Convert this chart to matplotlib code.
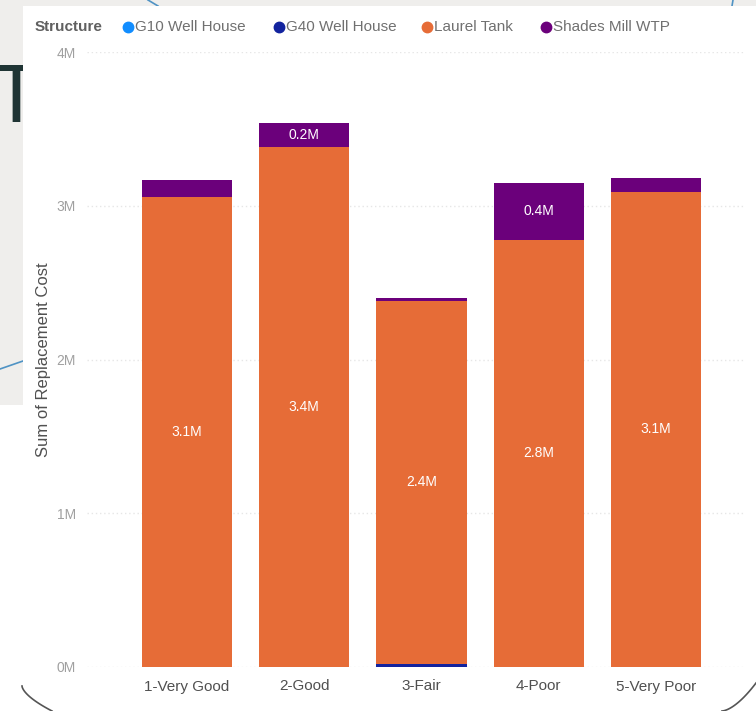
import matplotlib
matplotlib.use('Agg')
import matplotlib.pyplot as plt
from matplotlib.lines import Line2D
from matplotlib.patches import Polygon
import numpy as np

# ---------------- data ----------------
categories = ['1-Very Good', '2-Good', '3-Fair', '4-Poor', '5-Very Poor']
series_names = ['G10 Well House', 'G40 Well House', 'Laurel Tank', 'Shades Mill WTP']
g10_well_house = [0.0, 0.0, 0.0, 0.0, 0.0]
g40_well_house = [0.0, 0.0, 0.02, 0.0, 0.0]
laurel_tank = [3.06, 3.38, 2.36, 2.78, 3.09]
shades_mill_wtp = [0.11, 0.16, 0.02, 0.37, 0.09]
y_ticks = [0, 1, 2, 3, 4]
y_tick_labels = ['0M', '1M', '2M', '3M', '4M']
legend_title = 'Structure'
y_label = 'Sum of Replacement Cost'

colors = ['#118DFF', '#12239E', '#E66C37', '#6B007B']
series_values = [g10_well_house, g40_well_house, laurel_tank, shades_mill_wtp]

plt.rcParams['font.family'] = ['Liberation Sans', 'DejaVu Sans']

W, H = 756, 711
fig = plt.figure(figsize=(W / 100, H / 100), dpi=100)
fig.patch.set_facecolor('#efeeec')

def fx(px):
    return px / W

def fy(py):
    return 1 - py / H

# slide-like background pieces (partially hidden slide title behind the visual)
fig.text(fx(-10), fy(122), 'T', fontsize=60, color='#1f3434', ha='left', va='baseline',
         zorder=-2, fontweight='light')
panel = Polygon([(fx(23), fy(6)), (1, fy(6)), (1, 0), (0, 0), (0, fy(405)), (fx(23), fy(405))],
                closed=True, transform=fig.transFigure, facecolor='white', edgecolor='none', zorder=-1)
fig.add_artist(panel)
fig.add_artist(Line2D([0, fx(23)], [fy(369), fy(361)], transform=fig.transFigure,
                      color='#4f93c4', lw=1.2, zorder=-1.5))
fig.add_artist(Line2D([fx(148), fx(158)], [fy(0), fy(6)], transform=fig.transFigure,
                      color='#4f93c4', lw=1.2, zorder=-1.5))
fig.add_artist(Line2D([fx(733), fx(732)], [fy(0), fy(6)], transform=fig.transFigure,
                      color='#4f93c4', lw=1.2, zorder=-1.5))
t = np.linspace(0, 1, 30)
fig.add_artist(Line2D(fx(22 + 30 * t ** 1.6), fy(686 + 25 * t), transform=fig.transFigure,
                      color='#555555', lw=1.2, zorder=2))
fig.add_artist(Line2D(fx(722 + 34 * t), fy(711 - 28 * t ** 1.6), transform=fig.transFigure,
                      color='#555555', lw=1.2, zorder=2))

# ---------------- axes ----------------
ax = fig.add_axes([fx(87), fy(667), fx(744) - fx(87), fy(52) - fy(667)], zorder=1)
ax.set_facecolor('none')
x = np.arange(len(categories))
bottom = np.zeros(len(categories))
for name, vals, c in zip(series_names, series_values, colors):
    vals = np.array(vals)
    ax.bar(x, vals, width=0.77, bottom=bottom, color=c, label=name, zorder=2)
    for xi, b, v in zip(x, bottom, vals):
        if v >= 0.15:
            ax.text(xi, b + v / 2, f'{v:.1f}M', ha='center', va='center', color='white',
                    fontsize=10, zorder=3)
    bottom = bottom + vals

ax.set_xlim(-0.85, 4.75)
ax.set_ylim(0, 4)
ax.set_yticks(y_ticks)
ax.set_yticklabels(y_tick_labels, color='#a0a0a0', fontsize=10)
ax.set_xticks(x)
ax.set_xticklabels(categories, color='#505050', fontsize=11)
ax.tick_params(axis='both', length=0)
ax.tick_params(axis='y', pad=8)
ax.tick_params(axis='x', pad=9)
for s in ax.spines.values():
    s.set_visible(False)
ax.yaxis.grid(True, color='#e6e6e6', linestyle=(0, (1, 2)), lw=1, zorder=0)
ax.set_axisbelow(True)
ax.set_ylabel(y_label, color='#505050', fontsize=12)
ax.yaxis.set_label_coords(fx(44) - fx(87), 0.5, transform=None)
ax.yaxis.label.set_transform(fig.transFigure)
ax.yaxis.label.set_position((fx(44), fy(360)))
ax.yaxis.label.set_va('center')

# ---------------- legend ----------------
fig.text(fx(35), fy(27), legend_title, fontsize=11, fontweight='bold', color='#606060',
         va='center', ha='left')
leg_x = [128, 279, 427, 546]
for lx, name, c in zip(leg_x, series_names, colors):
    fig.add_artist(Line2D([fx(lx)], [fy(27)], marker='o', markersize=7.5, color=c,
                          transform=fig.transFigure, lw=0))
    fig.text(fx(lx + 7), fy(27), name, fontsize=11, color='#707070', va='center', ha='left')

fig.savefig('out.png', dpi=100, facecolor=fig.get_facecolor())
